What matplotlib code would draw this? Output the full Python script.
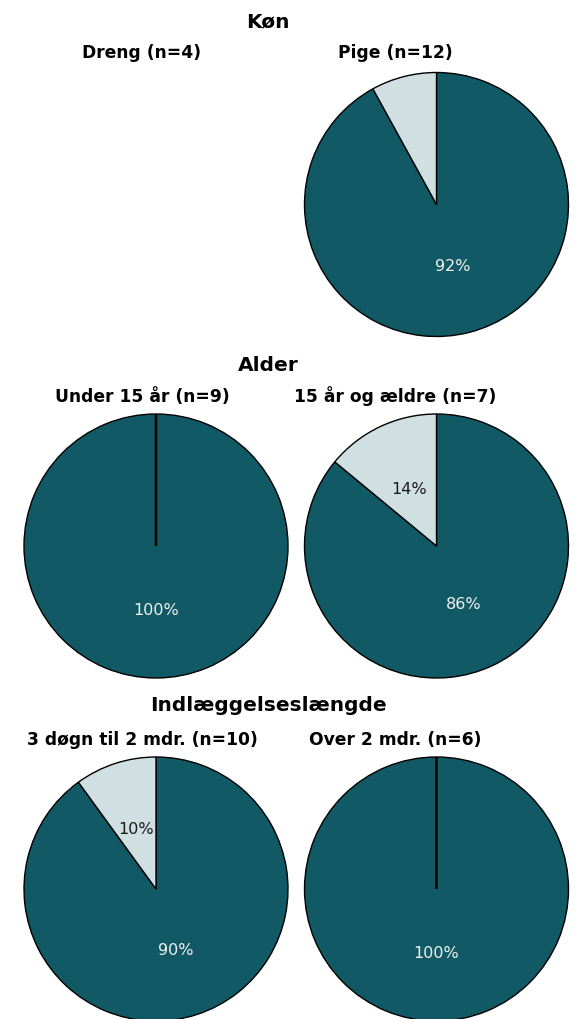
import matplotlib
matplotlib.use("Agg")
import matplotlib.pyplot as plt

# ---- data ----
groups = ["Køn", "Alder", "Indlæggelseslængde"]
subtitles = [["Dreng (n=4)", "Pige (n=12)"],
             ["Under 15 år (n=9)", "15 år og ældre (n=7)"],
             ["3 døgn til 2 mdr. (n=10)", "Over 2 mdr. (n=6)"]]
dark_pct = [[None, 92], [100, 86], [90, 100]]
light_pct = [[None, 8], [0, 14], [10, 0]]

DARK = "#115a65"
LIGHT = "#cfdfe2"

W, H = 578, 1020
fig = plt.figure(figsize=(W / 100, H / 100), dpi=100)
fig.patch.set_facecolor("white")

R = 132
pie_cx = [156, 436.5]
pie_cy = [205.5, 547, 890]
group_x = 268
group_base = [27, 371, 711]
sub_x = [142, 395]
sub_base = [58, 402, 745]

for gi, g in enumerate(groups):
    fig.text(group_x / W, 1 - group_base[gi] / H, g, ha="center", va="baseline",
             fontsize=14.5, fontweight="bold", family="DejaVu Sans")
    for pi in range(2):
        fig.text(sub_x[pi] / W, 1 - sub_base[gi] / H, subtitles[gi][pi],
                 ha="center", va="baseline", fontsize=12.3, fontweight="bold",
                 family="DejaVu Sans")
        d = dark_pct[gi][pi]
        l = light_pct[gi][pi]
        if d is None:
            continue
        cx, cy = pie_cx[pi], pie_cy[gi]
        ax = fig.add_axes([(cx - R) / W, (H - cy - R) / H, 2 * R / W, 2 * R / H])
        wedges, texts, autotexts = ax.pie(
            [d, l], colors=[DARK, LIGHT], startangle=90, counterclock=False,
            autopct=lambda p: f"{p:.0f}%" if p >= 9.5 else "",
            pctdistance=0.48, radius=1,
            wedgeprops=dict(edgecolor="black", linewidth=1.0),
            textprops=dict(fontsize=11.5, family="DejaVu Sans"))
        autotexts[0].set_color("#f0f0f0")
        autotexts[1].set_color("#1a1a1a")
        for w, v in zip(wedges, [d, l]):
            w.set_clip_on(False)
            if v == 0:
                w.set_linewidth(1.8)
        ax.set_xlim(-1, 1)
        ax.set_ylim(-1, 1)
        ax.set_aspect("equal")
        ax.axis("off")

fig.savefig("out.png", dpi=100, facecolor="white")
